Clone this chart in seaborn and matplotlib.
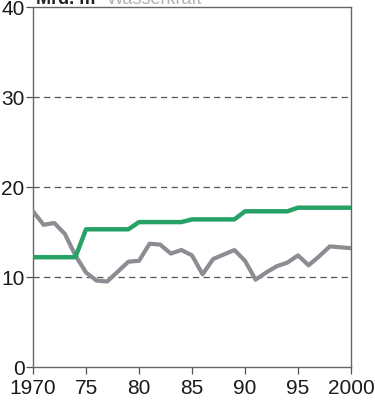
import matplotlib
matplotlib.use("Agg")
import matplotlib.pyplot as plt
import seaborn as sns
import pandas as pd
from matplotlib import font_manager

years = list(range(1970, 2001))
green_values = [12.2, 12.2, 12.2, 12.2, 12.2,
                15.3, 15.3, 15.3, 15.3, 15.3,
                16.1, 16.1, 16.1, 16.1, 16.1,
                16.4, 16.4, 16.4, 16.4, 16.4,
                17.3, 17.3, 17.3, 17.3, 17.3,
                17.7, 17.7, 17.7, 17.7, 17.7, 17.7]
gray_values = [17.3, 15.8, 16.0, 14.8, 12.4, 10.5, 9.6, 9.5, 10.6, 11.7,
               11.8, 13.7, 13.6, 12.6, 13.0, 12.4, 10.3, 12.0, 12.5, 13.0,
               11.8, 9.7, 10.5, 11.2, 11.6, 12.4, 11.3, 12.3, 13.4, 13.3, 13.2]
x_ticks = [1970, 1975, 1980, 1985, 1990, 1995, 2000]
x_tick_labels = ["1970", "75", "80", "85", "90", "95", "2000"]
y_ticks = [0, 10, 20, 30, 40]

sns.set_theme(style="white")
names = {f.name for f in font_manager.fontManager.ttflist}
fam = "Liberation Sans Narrow" if "Liberation Sans Narrow" in names else "Liberation Sans"
plt.rcParams["font.family"] = [fam, "DejaVu Sans"]

df = pd.DataFrame({"year": years, "green": green_values, "gray": gray_values})

fig = plt.figure(figsize=(3.75, 4.02), dpi=100)
ax = fig.add_axes([0.088, 0.0846, 0.848, 0.8955])

for y in [10, 20, 30]:
    ax.axhline(y, color="#555555", lw=0.9, ls=(0, (5, 3.5)), zorder=1)

sns.lineplot(data=df, x="year", y="gray", ax=ax, color="#8c8c92", lw=3.0, zorder=3)
sns.lineplot(data=df, x="year", y="green", ax=ax, color="#27a266", lw=3.2, zorder=4)

ax.set_xlim(1970, 2000)
ax.set_ylim(0, 40)
ax.set_xticks(x_ticks)
ax.set_xticklabels(x_tick_labels)
ax.set_yticks(y_ticks)
ax.set_xlabel("")
ax.set_ylabel("")
ax.tick_params(axis="both", which="both", direction="out", length=5, width=0.9,
               color="#555555", labelsize=15, labelcolor="#1a1a1a",
               bottom=True, left=True)
ax.tick_params(axis="x", pad=3)
ax.tick_params(axis="y", pad=1)
for s in ax.spines.values():
    s.set_color("#666666")
    s.set_linewidth(1.0)

fig.text(0.095, 1.0, "Mrd. m³", fontsize=13, color="#222222", va="center", ha="left", fontweight="bold")
fig.text(0.285, 1.0, "Wasserkraft", fontsize=13, color="#b0b0b0", va="center", ha="left")

fig.savefig("out.png", dpi=100)
